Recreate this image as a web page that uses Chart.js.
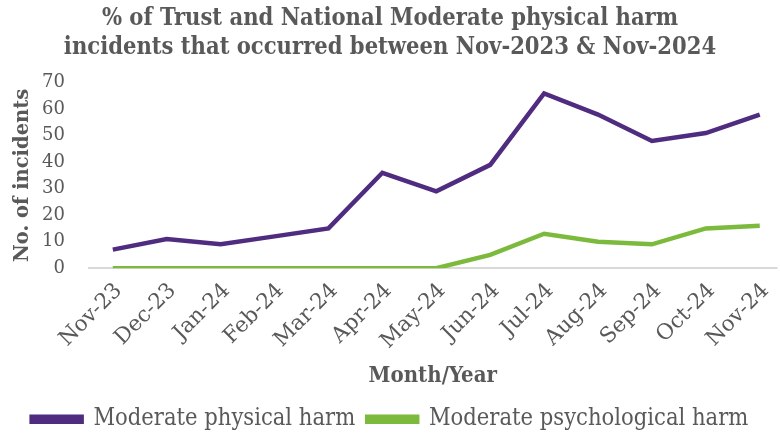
<!DOCTYPE html>
<html>
<head>
<meta charset="utf-8">
<script src="https://cdn.jsdelivr.net/npm/chart.js@4.4.1/dist/chart.umd.min.js"></script>
<style>
  html, body { margin: 0; padding: 0; background: #fff; }
  #wrap { width: 780px; height: 433px; }
</style>
</head>
<body>
<div id="wrap"><canvas id="chart"></canvas></div>
<script>
// values
const months = ['Nov-23', 'Dec-23', 'Jan-24', 'Feb-24', 'Mar-24', 'Apr-24', 'May-24',
    'Jun-24', 'Jul-24', 'Aug-24', 'Sep-24', 'Oct-24', 'Nov-24'];
const physicalHarm = [7, 11, 9, 12, 15, 36, 29, 39, 66, 58, 48, 51, 58];
const psychologicalHarm = [0, 0, 0, 0, 0, 0, 0, 5, 13, 10, 9, 15, 16];
const yTicks = [0, 10, 20, 30, 40, 50, 60, 70];

const textGrey = '#595959';
const purple = '#4f2c80';
const green = '#7bba3c';
const condensed = '"DejaVu Serif Condensed", "DejaVu Serif", serif';
const serif = '"DejaVu Serif", serif';

const toPoints = arr => arr.map((v, i) => ({ x: i, y: v }));

new Chart(document.getElementById('chart'), {
    type: 'line',
    data: {
        datasets: [{
            label: 'Moderate physical harm',
            data: toPoints(physicalHarm),
            borderColor: purple,
            backgroundColor: purple,
            borderWidth: 4.5,
            pointRadius: 0,
            tension: 0
        }, {
            label: 'Moderate psychological harm',
            data: toPoints(psychologicalHarm),
            borderColor: green,
            backgroundColor: green,
            borderWidth: 4.5,
            pointRadius: 0,
            tension: 0
        }]
    },
    options: {
        responsive: true,
        maintainAspectRatio: false,
        animation: false,
        layout: { padding: { left: 0, right: 0, top: 0, bottom: -8 } },
        plugins: {
            title: {
                display: true,
                text: ['% of Trust and National Moderate physical harm',
                    'incidents that occurred between Nov-2023 & Nov-2024'],
                color: textGrey,
                font: { family: condensed, size: 23.5, weight: 'bold', lineHeight: 1.25 },
                padding: { top: 4, bottom: 20 }
            },
            legend: {
                position: 'bottom',
                labels: {
                    color: textGrey,
                    boxWidth: 50,
                    boxHeight: 5,
                    padding: 12,
                    font: { family: condensed, size: 23.5 }
                }
            },
            tooltip: { enabled: false }
        },
        scales: {
            x: {
                type: 'linear',
                min: -0.46,
                max: 12.33,
                afterBuildTicks: axis => { axis.ticks = months.map((m, i) => ({ value: i })); },
                grid: { display: false },
                border: { display: false },
                ticks: {
                    autoSkip: false,
                    maxRotation: 45,
                    minRotation: 45,
                    color: textGrey,
                    padding: 2,
                    labelOffset: 6,
                    font: { family: serif, size: 21.5 },
                    callback: value => months[value]
                },
                title: {
                    display: true,
                    text: 'Month/Year',
                    color: textGrey,
                    font: { family: condensed, size: 22, weight: 'bold' },
                    padding: { top: 7, bottom: 6 }
                }
            },
            y: {
                min: 0,
                max: 70,
                afterBuildTicks: axis => { axis.ticks = yTicks.map(v => ({ value: v })); },
                afterFit: axis => { axis.width = 88; },
                grid: {
                    color: ctx => ctx.tick && ctx.tick.value === 0 ? '#d9d9d9' : 'rgba(0,0,0,0)',
                    lineWidth: 2,
                    drawTicks: false
                },
                border: { display: false },
                ticks: {
                    autoSkip: false,
                    color: textGrey,
                    padding: 23,
                    font: { family: serif, size: 18 }
                },
                title: {
                    display: true,
                    text: 'No. of incidents',
                    color: textGrey,
                    font: { family: serif, size: 19.5, weight: 'bold' },
                    padding: { top: 11, bottom: 0 }
                }
            }
        }
    }
});
</script>
</body>
</html>
